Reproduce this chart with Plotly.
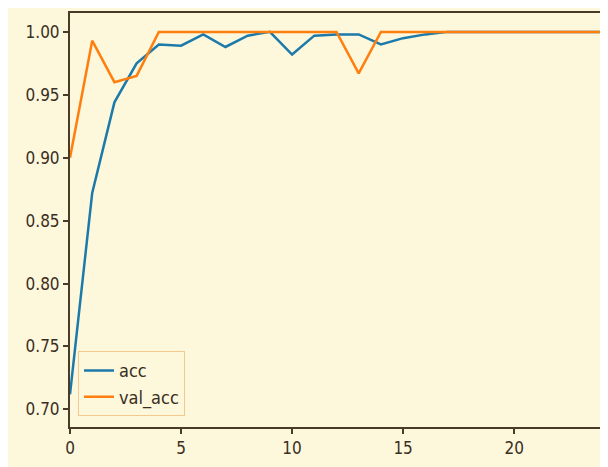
import plotly.graph_objects as go

epochs = list(range(25))
acc = [0.712, 0.872, 0.944, 0.975, 0.990, 0.989, 0.998, 0.988, 0.997, 1.000,
       0.982, 0.997, 0.998, 0.998, 0.990, 0.995, 0.998, 1.000, 1.000, 1.000,
       1.000, 1.000, 1.000, 1.000, 1.000]
val_acc = [0.900, 0.993, 0.960, 0.965, 1.000, 1.000, 1.000, 1.000, 1.000, 1.000,
           1.000, 1.000, 1.000, 0.967, 1.000, 1.000, 1.000, 1.000, 1.000, 1.000,
           1.000, 1.000, 1.000, 1.000, 1.000]
xticks = [0, 5, 10, 15, 20]
yticks = [0.70, 0.75, 0.80, 0.85, 0.90, 0.95, 1.00]

font = "DejaVu Sans Condensed, DejaVu Sans"
axcol = "#4a3b28"
bg = "#fdf7dc"

fig = go.Figure()
fig.add_trace(go.Scatter(x=epochs, y=acc, mode="lines", name="acc",
                         line=dict(color="#1c7aab", width=2.5)))
fig.add_trace(go.Scatter(x=epochs, y=val_acc, mode="lines", name="val_acc",
                         line=dict(color="#ff7f0e", width=2.5)))

fig.update_layout(
    width=600, height=459,
    margin=dict(l=62, r=4, t=3, b=40),
    paper_bgcolor=bg, plot_bgcolor=bg,
    font=dict(family=font, size=17, color="#3a2e1e"),
    showlegend=True,
    legend=dict(x=0.015, y=0.026, xanchor="left", yanchor="bottom",
                bgcolor=bg, bordercolor="#f3c98f", borderwidth=1,
                font=dict(size=18, color="#3a2e1e")),
)
fig.update_xaxes(range=[0, 24], tickvals=xticks, ticktext=[str(v) for v in xticks],
                 showgrid=False, zeroline=False, showline=True, mirror=True,
                 linecolor=axcol, linewidth=2, ticks="outside", ticklen=5,
                 tickwidth=1.5, tickcolor=axcol)
fig.update_yaxes(range=[0.686, 1.015], tickvals=yticks,
                 ticktext=[f"{v:.2f}" for v in yticks],
                 showgrid=False, zeroline=False, showline=True, mirror=True,
                 linecolor=axcol, linewidth=2, ticks="outside", ticklen=5,
                 tickwidth=1.5, tickcolor=axcol)

fig.write_html("out.html")
